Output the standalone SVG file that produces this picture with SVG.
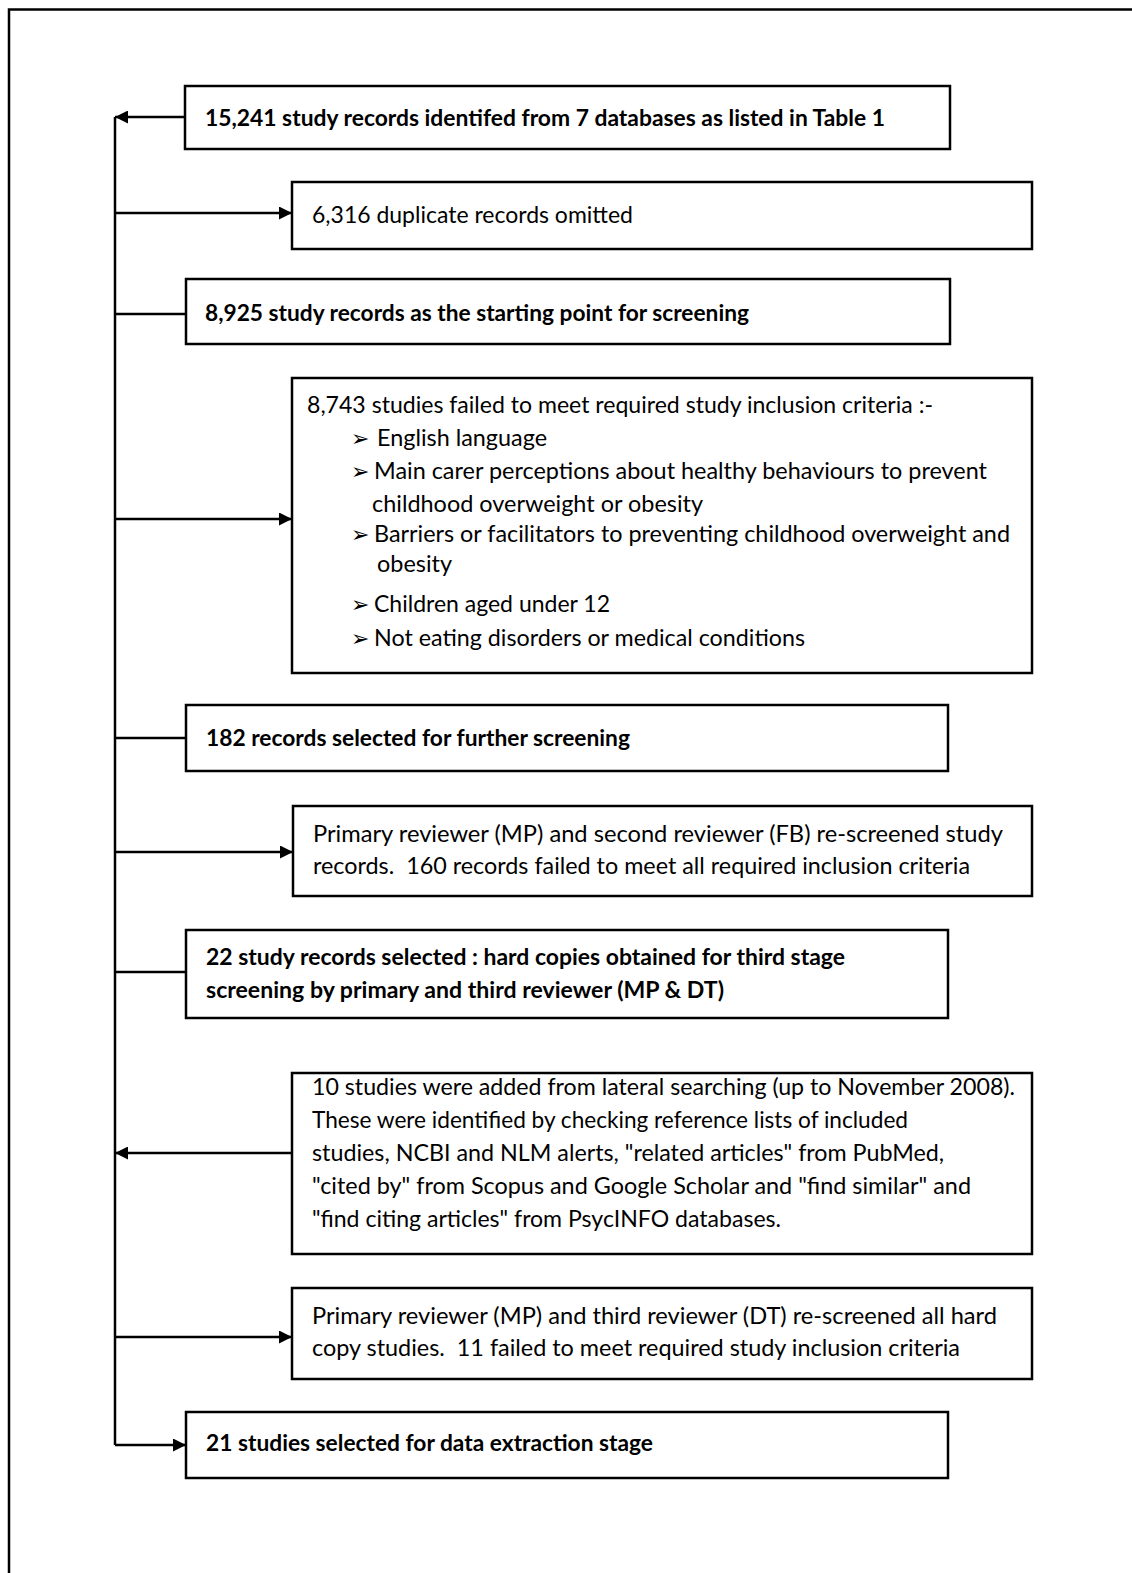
<svg xmlns="http://www.w3.org/2000/svg" width="1132" height="1573" viewBox="0 0 1132 1573">
<defs>
<style>
.box{fill:#fff;stroke:#000;stroke-width:2.5}
.ln{fill:none;stroke:#000;stroke-width:2.5}
.t{font-family:Lato,"Liberation Sans",sans-serif;font-size:23px;fill:#000}
.b{font-weight:bold;font-size:22px}
.bul{font-family:"DejaVu Sans",sans-serif;font-size:22px;fill:#000}
</style>
<marker id="ah" markerUnits="userSpaceOnUse" markerWidth="14" markerHeight="13" refX="13" refY="6.5" orient="auto">
<path d="M0,0 L13,6.5 L0,13 z" fill="#000"/>
</marker>
</defs>
<rect width="1132" height="1573" fill="#fff"/>
<g id="frame">
<path class="ln" d="M9,1573 V9.5 H1132"/>
</g>
<g id="connectors">
<path class="ln" d="M115,117 V1445"/>
<path class="ln" d="M185,117 H115" marker-end="url(#ah)"/>
<path class="ln" d="M115,213 H292" marker-end="url(#ah)"/>
<path class="ln" d="M115,314 H186"/>
<path class="ln" d="M115,519 H292" marker-end="url(#ah)"/>
<path class="ln" d="M115,738 H186"/>
<path class="ln" d="M115,852 H293" marker-end="url(#ah)"/>
<path class="ln" d="M115,972 H186"/>
<path class="ln" d="M292,1153 H115" marker-end="url(#ah)"/>
<path class="ln" d="M115,1337 H292" marker-end="url(#ah)"/>
<path class="ln" d="M115,1445 H186" marker-end="url(#ah)"/>
</g>
<g id="n1">
<rect class="box" x="185" y="86" width="765" height="63"/>
<text class="t b" x="205" y="126" textLength="680" lengthAdjust="spacingAndGlyphs">15,241 study records identifed from 7 databases as listed in Table 1</text>
</g>
<g id="n2">
<rect class="box" x="292" y="182" width="740" height="67"/>
<text class="t" x="312" y="223" textLength="321" lengthAdjust="spacingAndGlyphs">6,316 duplicate records omitted</text>
</g>
<g id="n3">
<rect class="box" x="186" y="279" width="764" height="65"/>
<text class="t b" x="205" y="321" textLength="544" lengthAdjust="spacingAndGlyphs">8,925 study records as the starting point for screening</text>
</g>
<g id="n4">
<rect class="box" x="292" y="378" width="740" height="295"/>
<text class="t" x="307" y="413" textLength="626" lengthAdjust="spacingAndGlyphs">8,743 studies failed to meet required study inclusion criteria :-</text>
<text class="bul" x="351" y="446">➢</text>
<text class="t" x="377" y="446" textLength="170" lengthAdjust="spacingAndGlyphs">English language</text>
<text class="bul" x="351" y="479">➢</text>
<text class="t" x="374" y="479" textLength="613" lengthAdjust="spacingAndGlyphs">Main carer perceptions about healthy behaviours to prevent</text>
<text class="t" x="372" y="512" textLength="331" lengthAdjust="spacingAndGlyphs">childhood overweight or obesity</text>
<text class="bul" x="351" y="542">➢</text>
<text class="t" x="374" y="542" textLength="636" lengthAdjust="spacingAndGlyphs">Barriers or facilitators to preventing childhood overweight and</text>
<text class="t" x="377" y="572" textLength="75" lengthAdjust="spacingAndGlyphs">obesity</text>
<text class="bul" x="351" y="612">➢</text>
<text class="t" x="374" y="612" textLength="236" lengthAdjust="spacingAndGlyphs">Children aged under 12</text>
<text class="bul" x="351" y="646">➢</text>
<text class="t" x="374" y="646" textLength="431" lengthAdjust="spacingAndGlyphs">Not eating disorders or medical conditions</text>
</g>
<g id="n5">
<rect class="box" x="186" y="705" width="762" height="66"/>
<text class="t b" x="206" y="746" textLength="424" lengthAdjust="spacingAndGlyphs">182 records selected for further screening</text>
</g>
<g id="n6">
<rect class="box" x="293" y="806" width="739" height="90"/>
<text class="t" x="313" y="842" textLength="690" lengthAdjust="spacingAndGlyphs">Primary reviewer (MP) and second reviewer (FB) re-screened study</text>
<text class="t" x="313" y="874" textLength="657" lengthAdjust="spacingAndGlyphs" xml:space="preserve">records.  160 records failed to meet all required inclusion criteria</text>
</g>
<g id="n7">
<rect class="box" x="186" y="930" width="762" height="88"/>
<text class="t b" x="206" y="965" textLength="639" lengthAdjust="spacingAndGlyphs">22 study records selected : hard copies obtained for third stage</text>
<text class="t b" x="206" y="998" textLength="518" lengthAdjust="spacingAndGlyphs">screening by primary and third reviewer (MP &amp; DT)</text>
</g>
<g id="n8">
<rect class="box" x="292" y="1073" width="740" height="181"/>
<text class="t" x="312" y="1095" textLength="703" lengthAdjust="spacingAndGlyphs">10 studies were added from lateral searching (up to November 2008).</text>
<text class="t" x="312" y="1128" textLength="596" lengthAdjust="spacingAndGlyphs">These were identified by checking reference lists of included</text>
<text class="t" x="312" y="1161" textLength="632" lengthAdjust="spacingAndGlyphs">studies, NCBI and NLM alerts, "related articles" from PubMed,</text>
<text class="t" x="312" y="1194" textLength="659" lengthAdjust="spacingAndGlyphs">"cited by" from Scopus and Google Scholar and "find similar" and</text>
<text class="t" x="312" y="1227" textLength="469" lengthAdjust="spacingAndGlyphs">"find citing articles" from PsycINFO databases.</text>
</g>
<g id="n9">
<rect class="box" x="292" y="1288" width="740" height="91"/>
<text class="t" x="312" y="1324" textLength="685" lengthAdjust="spacingAndGlyphs">Primary reviewer (MP) and third reviewer (DT) re-screened all hard</text>
<text class="t" x="312" y="1356" textLength="648" lengthAdjust="spacingAndGlyphs" xml:space="preserve">copy studies.  11 failed to meet required study inclusion criteria</text>
</g>
<g id="n10">
<rect class="box" x="186" y="1412" width="762" height="66"/>
<text class="t b" x="206" y="1451" textLength="447" lengthAdjust="spacingAndGlyphs">21 studies selected for data extraction stage</text>
</g>
</svg>
